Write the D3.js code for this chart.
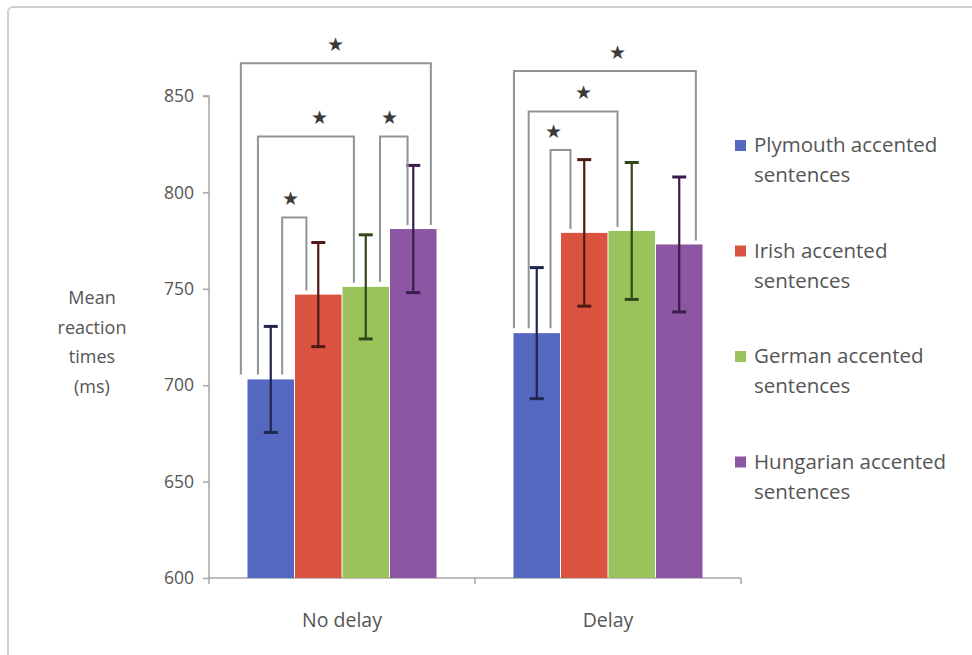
<!DOCTYPE html>
<html>
<head>
<meta charset="utf-8">
<script src="https://cdn.jsdelivr.net/npm/d3@7"></script>
<style>
  html, body { margin: 0; padding: 0; background: #ffffff; }
  svg { display: block; }
  text { font-family: "Open Sans", "Noto Sans", sans-serif; fill: #555555; font-weight: 500; }
</style>
</head>
<body>
<svg id="chart" width="972" height="655"></svg>
<script>
// Mean reaction times by accent and delay condition
const conditions = ["No delay", "Delay"];
const accents = ["Plymouth accented sentences", "Irish accented sentences",
                 "German accented sentences", "Hungarian accented sentences"];
const legendLines = [["Plymouth accented", "sentences"], ["Irish accented", "sentences"],
                     ["German accented", "sentences"], ["Hungarian accented", "sentences"]];
const meansNoDelay = [703, 747, 751, 781];
const meansDelay   = [727, 779, 780, 773];
const errNoDelay   = [27.5, 27, 27, 33];
const errDelay     = [34, 38, 35.5, 35];
const yTicks = [600, 650, 700, 750, 800, 850];

// Significant pairwise comparisons (bar indices within a condition, bracket height in ms)
const comparisons = [
  { cond: "No delay", a: 0, b: 3, level: 867 },
  { cond: "No delay", a: 0, b: 2, level: 829 },
  { cond: "No delay", a: 2, b: 3, level: 829 },
  { cond: "No delay", a: 0, b: 1, level: 787 },
  { cond: "Delay",    a: 0, b: 3, level: 863 },
  { cond: "Delay",    a: 0, b: 2, level: 842 },
  { cond: "Delay",    a: 0, b: 1, level: 822 }
];
// where each bracket leg meets its bar (fraction of bar width) and where the star sits
const bracketLayout = [
  { fa: -0.13, fb: 0.87, star: 0.50 },
  { fa: 0.23,  fb: 0.25, star: 0.64 },
  { fa: 0.80,  fb: 0.38, star: 0.36 },
  { fa: 0.74,  fb: 0.25, star: 0.36 },
  { fa: 0.02,  fb: 0.85, star: 0.57 },
  { fa: 0.33,  fb: 0.20, star: 0.62 },
  { fa: 0.79,  fb: 0.21, star: 0.14 }
];

const barColors = ["#5568c0", "#d9533f", "#9ac35b", "#8d56a3"];
const errColors = ["#20254f", "#4f1812", "#304818", "#3a1c4c"];

const svg = d3.select("#chart");

// outer frame (rounded corner, running off the right and bottom edges)
svg.append("rect")
  .attr("x", 8).attr("y", 7).attr("width", 1000).attr("height", 700)
  .attr("rx", 5).attr("fill", "none")
  .attr("stroke", "#cfcfcf").attr("stroke-width", 2);

const plot = { left: 209, right: 741, top: 96, bottom: 578 };

const y = d3.scaleLinear().domain([600, 850]).range([plot.bottom, plot.top]);
const x0 = d3.scaleBand().domain(conditions).range([plot.left, plot.right])
  .paddingInner(0.2857).paddingOuter(0.1429);
const x1 = d3.scaleBand().domain(d3.range(accents.length)).range([0, x0.bandwidth()]);

const rows = conditions.map((c, ci) => ({
  cond: c,
  means: ci === 0 ? meansNoDelay : meansDelay,
  errs: ci === 0 ? errNoDelay : errDelay
}));

// y axis
const yAxis = svg.append("g")
  .attr("transform", `translate(${plot.left},0)`)
  .call(d3.axisLeft(y).tickValues(yTicks).tickSize(6).tickPadding(9).tickFormat(d3.format("d")));
yAxis.select(".domain").attr("stroke", "#a6a6a6").attr("stroke-width", 1.5)
  .attr("d", `M-6,${plot.top}H0V${plot.bottom}`);
yAxis.selectAll(".tick line").attr("stroke", "#a6a6a6").attr("stroke-width", 1.5);
yAxis.selectAll(".tick text").attr("font-size", 17.5).style("fill", "#555555")
  .attr("font-family", "Open Sans, sans-serif").attr("font-weight", 500);

// x axis baseline with boundary ticks
const xAxisG = svg.append("g").attr("transform", `translate(0,${plot.bottom})`);
xAxisG.append("line").attr("x1", plot.left).attr("x2", plot.right)
  .attr("stroke", "#a6a6a6").attr("stroke-width", 1.5);
const boundaries = [plot.left, x0("Delay") - x0.step() * x0.paddingInner() / 2, plot.right];
xAxisG.selectAll(".bt").data(boundaries).join("line")
  .attr("x1", d => d).attr("x2", d => d).attr("y1", 0).attr("y2", 6)
  .attr("stroke", "#a6a6a6").attr("stroke-width", 1.5);
xAxisG.selectAll(".cl").data(conditions).join("text")
  .attr("x", d => x0(d) + x0.bandwidth() / 2).attr("y", 49)
  .attr("text-anchor", "middle").attr("font-size", 19.5)
  .text(d => d);

// y axis title
const yTitle = ["Mean", "reaction", "times", "(ms)"];
svg.append("g").selectAll("text").data(yTitle).join("text")
  .attr("x", 92).attr("y", (d, i) => 304 + i * 29.5)
  .attr("text-anchor", "middle").attr("font-size", 18)
  .text(d => d);

// bars
const groups = svg.append("g").selectAll("g").data(rows).join("g")
  .attr("transform", d => `translate(${x0(d.cond)},0)`);

groups.selectAll("rect").data(d => d.means.map((m, i) => ({ m, i }))).join("rect")
  .attr("x", d => x1(d.i) + 0.5).attr("width", x1.bandwidth() - 1)
  .attr("y", d => y(d.m)).attr("height", d => y(600) - y(d.m))
  .attr("fill", d => barColors[d.i]);

// error bars
const eb = groups.selectAll("g.err").data(d => d.means.map((m, i) => ({ m, e: d.errs[i], i })))
  .join("g").attr("class", "err")
  .attr("stroke", d => errColors[d.i]).attr("stroke-width", 2.2);
const cx = d => x1(d.i) + x1.bandwidth() / 2;
eb.append("line").attr("x1", cx).attr("x2", cx)
  .attr("y1", d => y(d.m + d.e)).attr("y2", d => y(d.m - d.e));
eb.append("line").attr("x1", d => cx(d) - 7).attr("x2", d => cx(d) + 7)
  .attr("y1", d => y(d.m + d.e)).attr("y2", d => y(d.m + d.e)).attr("stroke-width", 3);
eb.append("line").attr("x1", d => cx(d) - 7).attr("x2", d => cx(d) + 7)
  .attr("y1", d => y(d.m - d.e)).attr("y2", d => y(d.m - d.e)).attr("stroke-width", 3);

// significance brackets
const br = svg.append("g");
comparisons.forEach((c, k) => {
  const L = bracketLayout[k];
  const row = rows[conditions.indexOf(c.cond)];
  const xa = x0(c.cond) + x1(c.a) + L.fa * x1.bandwidth();
  const xb = x0(c.cond) + x1(c.b) + L.fb * x1.bandwidth();
  const ya = y(row.means[c.a]) - 5;
  const yb = y(row.means[c.b]) - 4;
  const yt = y(c.level);
  br.append("path")
    .attr("d", `M${xa},${ya}V${yt}H${xb}V${yb}`)
    .attr("fill", "none").attr("stroke", "#8e9596").attr("stroke-width", 2);
  br.append("text")
    .attr("x", xa + L.star * (xb - xa)).attr("y", yt - 12)
    .attr("text-anchor", "middle").attr("font-size", 18.5)
    .attr("font-family", "DejaVu Sans, sans-serif")
    .style("fill", "#3a3a3a")
    .text("\u2605");
});

// legend
const legend = svg.append("g").selectAll("g").data(accents).join("g")
  .attr("transform", (d, i) => `translate(735,${152 + i * 105.5})`);
legend.append("rect").attr("x", 0).attr("y", -12).attr("width", 11).attr("height", 11)
  .attr("fill", (d, i) => barColors[i]);
legend.append("text").attr("x", 19).attr("y", 0).attr("font-size", 20.5)
  .selectAll("tspan").data((d, i) => legendLines[i]).join("tspan")
  .attr("x", 19).attr("dy", (d, j) => j === 0 ? 0 : 30)
  .text(d => d);
</script>
</body>
</html>
